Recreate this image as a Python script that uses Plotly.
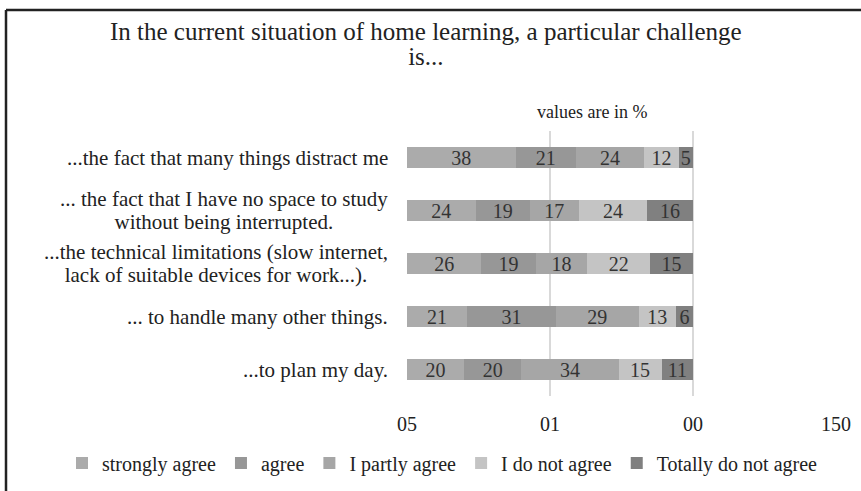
import plotly.graph_objects as go

categories = [
    "...the fact that many things distract me",
    "... the fact that I have no space to study<br>without being interrupted.",
    "...the technical limitations (slow internet,<br>lack of suitable devices for work...).",
    "... to handle many other things.",
    "...to plan my day.",
]
series_names = ["strongly agree", "agree", "I partly agree", "I do not agree", "Totally do not agree"]
strongly_agree = [38, 24, 26, 21, 20]
agree = [21, 19, 19, 31, 20]
partly_agree = [24, 17, 18, 29, 34]
do_not_agree = [12, 24, 22, 13, 15]
totally_not = [5, 16, 15, 6, 11]
tick_vals = [0, 50, 100, 150]
tick_text = ["05", "01", "00", "150"]
title_text = "In the current situation of home learning, a particular challenge<br>is..."

colors = ["#ababab", "#979797", "#a6a6a6", "#c4c4c4", "#808080"]
values = [strongly_agree, agree, partly_agree, do_not_agree, totally_not]

FONT = "Liberation Serif"
W, H = 861, 491
L, R, T, B = 407, 25, 131, 95

# pixel -> paper helpers
px = lambda v: (v - L) / (W - L - R)
py = lambda v: (H - B - v) / (H - T - B)


def tight(text, size):
    # line spacing follows the annotation's base font size, so the base is kept
    # small and the visible size is set on a span -> tighter leading
    return "<br>".join(f"<span style='font-size:{size}px'>{t}</span>" for t in text.split("<br>"))


fig = go.Figure()
for name, vals, col in zip(series_names, values, colors):
    fig.add_trace(go.Bar(
        y=categories, x=vals, name=name, orientation="h",
        marker=dict(color=col, line=dict(width=0)),
        text=vals, textposition="inside", insidetextanchor="middle", textangle=0,
        textfont=dict(family=FONT, size=20, color="#333333"),
        width=0.4,
    ))

for c in categories:
    fig.add_annotation(
        x=px(390), xref="paper", y=c, yref="y",
        text=tight(c, 21), showarrow=False, xanchor="right", align="center",
        font=dict(family=FONT, size=18, color="#222222"),
    )

fig.add_annotation(
    x=px(592), xref="paper", y=py(112), yref="paper",
    text="values are in %", showarrow=False, xanchor="center", yanchor="middle",
    font=dict(family=FONT, size=18, color="#222222"),
)

fig.add_annotation(
    x=px(426), xref="paper", y=py(44.5), yref="paper",
    text=tight(title_text, 25), showarrow=False, xanchor="center", yanchor="middle",
    align="center", font=dict(family=FONT, size=19, color="#222222"),
)

# frame lines (top and left) like the original picture
fig.add_shape(type="line", xref="paper", yref="paper", x0=px(6), x1=px(W + 5), y0=py(10), y1=py(10),
              line=dict(color="#222222", width=2.5))
fig.add_shape(type="line", xref="paper", yref="paper", x0=px(6), x1=px(6), y0=py(10), y1=py(H + 5),
              line=dict(color="#222222", width=2.5))

fig.update_layout(
    barmode="stack",
    width=W, height=H,
    margin=dict(l=L, r=R, t=T, b=B, autoexpand=False),
    paper_bgcolor="white", plot_bgcolor="white",
    font=dict(family=FONT, color="#222222"),
    uniformtext=dict(mode="show", minsize=20),
    xaxis=dict(
        range=[0, 150], tickvals=tick_vals, ticktext=tick_text,
        showgrid=True, gridcolor="#d9d9d9", gridwidth=1.5, zeroline=False,
        showline=False, tickfont=dict(family=FONT, size=20, color="#222222"),
        ticklabelstandoff=14,
    ),
    yaxis=dict(
        autorange="reversed", showticklabels=False, showgrid=False, zeroline=False,
        showline=False,
    ),
    legend=dict(
        orientation="h", x=px(62), xanchor="left",
        y=py(463), yanchor="middle", bgcolor="rgba(0,0,0,0)",
        font=dict(family=FONT, size=20, color="#222222"), traceorder="normal",
        itemwidth=30,
    ),
    showlegend=True,
)

fig.write_html("out.html", config={"displayModeBar": False},
               post_script="document.body.style.margin='0';")
